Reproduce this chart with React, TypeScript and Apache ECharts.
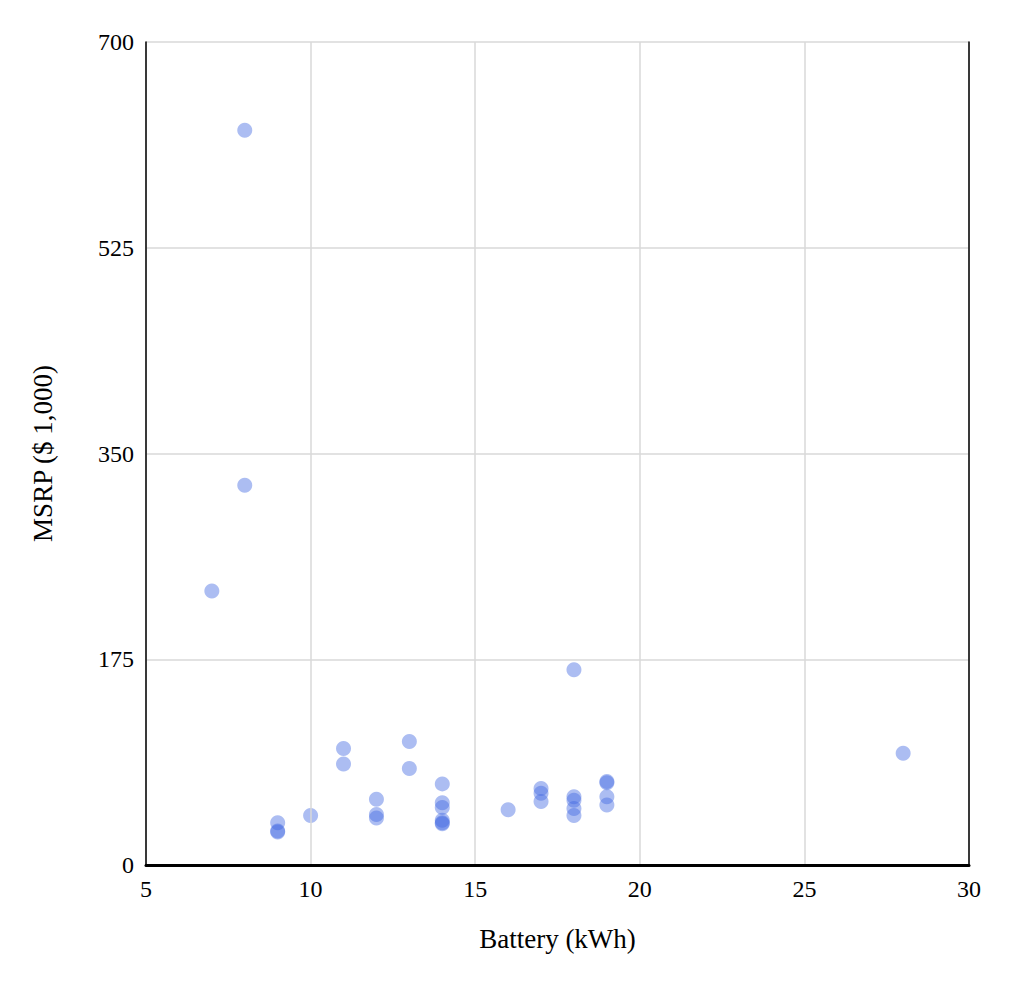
import React, { useEffect, useRef } from "react";
import * as echarts from "echarts";

const batteryKwh = [8, 8, 7, 18, 28, 11, 11, 13, 13, 14, 14, 14, 14, 14, 14, 9, 9, 9, 10, 12, 12, 12, 16, 17, 17, 17, 18, 18, 18, 18, 19, 19, 19, 19];
const msrpK = [625, 323, 233, 166, 95, 99, 86, 105, 82, 69, 53, 49, 38, 36, 35, 36, 29, 28, 42, 56, 43, 40, 47, 65, 61, 54, 58, 55, 48, 42, 71, 70, 58, 51];

const font = "Liberation Serif";
const frame = { show: true, lineStyle: { color: "#000", width: 1.5 } };

const App: React.FC = () => {
  const chartRef = useRef<HTMLDivElement>(null);

  useEffect(() => {
    if (!chartRef.current) return;
    const chart = echarts.init(chartRef.current, null, { renderer: "svg" });

    const option: echarts.EChartsOption = {
      animation: false,
      grid: { left: 138, right: 57, top: 34, bottom: 119 },
      xAxis: [
        {
          type: "value",
          min: 5,
          max: 30,
          interval: 5,
          name: "Battery (kWh)",
          nameLocation: "middle",
          nameGap: 60,
          nameTextStyle: { fontFamily: font, fontSize: 27, color: "#000" },
          axisLine: { show: true, lineStyle: { color: "#000", width: 3 } },
          axisTick: { show: false },
          axisLabel: { fontFamily: font, fontSize: 24, color: "#000", margin: 12 },
          splitLine: { lineStyle: { color: "#d9d9d9", width: 1.5 } },
          z: 5,
        },
        {
          type: "value",
          position: "top",
          min: 5,
          max: 30,
          axisLine: frame,
          axisTick: { show: false },
          axisLabel: { show: false },
          splitLine: { show: false },
          z: 5,
        },
      ],
      yAxis: [
        {
          type: "value",
          min: 0,
          max: 700,
          interval: 175,
          name: "MSRP ($ 1,000)",
          nameLocation: "middle",
          nameGap: 90,
          nameTextStyle: { fontFamily: font, fontSize: 27, color: "#000" },
          axisLine: frame,
          axisTick: { show: false },
          axisLabel: { fontFamily: font, fontSize: 24, color: "#000", margin: 12 },
          splitLine: { lineStyle: { color: "#d9d9d9", width: 1.5 } },
          z: 5,
        },
        {
          type: "value",
          position: "right",
          min: 0,
          max: 700,
          axisLine: frame,
          axisTick: { show: false },
          axisLabel: { show: false },
          splitLine: { show: false },
          z: 5,
        },
      ],
      series: [
        {
          type: "scatter",
          symbolSize: 15,
          itemStyle: { color: "rgba(65, 105, 225, 0.55)" },
          data: batteryKwh.map((b, i) => [b, msrpK[i]]),
        },
      ],
    };

    chart.setOption(option);
    return () => chart.dispose();
  }, []);

  return <div ref={chartRef} style={{ width: "1018px", height: "976px" }} />;
};

export default App;
